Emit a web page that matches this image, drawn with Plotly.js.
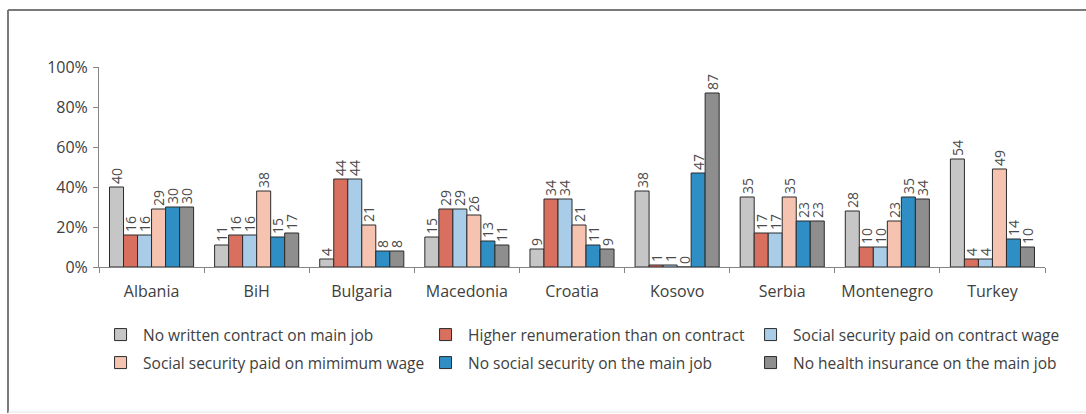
<!DOCTYPE html>
<html><head><meta charset="utf-8">
<script src="https://cdn.plot.ly/plotly-3.0.1.min.js"></script>
<style>html,body{margin:0;padding:0;background:#fff;} #chart{width:1086px;height:414px;}</style>
</head><body><div id="chart"></div>
<script>
const countries = ["Albania","BiH","Bulgaria","Macedonia","Croatia","Kosovo","Serbia","Montenegro","Turkey"];
const seriesNames = [
  "No written contract on main job",
  "Higher renumeration than on contract",
  "Social security paid on contract wage",
  "Social security paid on mimimum wage",
  "No social security on the main job",
  "No health insurance on the main job"
];
const noWrittenContract   = [40,11,4,15,9,38,35,28,54];
const higherRenumeration  = [16,16,44,29,34,1,17,10,4];
const ssOnContractWage    = [16,16,44,29,34,1,17,10,4];
const ssOnMinimumWage     = [29,38,21,26,21,0,35,23,49];
const noSocialSecurity    = [30,15,8,13,11,47,23,35,14];
const noHealthInsurance   = [30,17,8,11,9,87,23,34,10];
const yTickVals = [0,20,40,60,80,100];
const yTickText = ["0%","20%","40%","60%","80%","100%"];

const seriesValues = [noWrittenContract, higherRenumeration, ssOnContractWage, ssOnMinimumWage, noSocialSecurity, noHealthInsurance];
const colors = ["#c6c6c6","#d9705f","#a9cce8","#f7c3b1","#2f8fc5","#8e8e8e"];
const legendIds = ["legend","legend","legend","legend2","legend2","legend2"];

const W = 1086, H = 414;
const M = {l:99, r:41, t:67, b:147};
const pw = W - M.l - M.r, ph = H - M.t - M.b;
const px = x => (x - M.l) / pw;
const py = y => (H - M.b - y) / ph;

const FONT = "Open Sans, Liberation Sans, sans-serif";
const traces = seriesValues.map((vals, i) => ({
  type: "bar",
  name: seriesNames[i],
  x: countries,
  y: vals,
  text: vals.map(String),
  textposition: "outside",
  textangle: -90,
  constraintext: "none",
  cliponaxis: false,
  textfont: {family: FONT, size: 14, color: "#4a4a4a"},
  marker: {color: colors[i], line: {color: "#2b2b2b", width: 1}},
  legend: legendIds[i],
  hoverinfo: "x+y+name"
}));

const legendCommon = {
  orientation: "h",
  xanchor: "left",
  yanchor: "middle",
  itemwidth: 35,
  entrywidth: 275,
  entrywidthmode: "pixels",
  font: {family: FONT, size: 15.5, color: "#404040"},
  bgcolor: "rgba(0,0,0,0)",
  itemclick: false, itemdoubleclick: false
};

const layout = {
  width: W, height: H,
  margin: M,
  paper_bgcolor: "#ffffff",
  plot_bgcolor: "#ffffff",
  barmode: "group",
  bargap: 0.2,
  bargroupgap: 0,
  showlegend: true,
  legend: Object.assign({}, legendCommon, {x: -0.001, y: py(335)}),
  legend2: Object.assign({}, legendCommon, {x: -0.001, y: py(363)}),
  xaxis: {
    type: "category",
    showline: true, linecolor: "#858585", linewidth: 1,
    ticks: "outside", tickson: "boundaries", ticklen: 5, tickcolor: "#858585",
    ticklabelstandoff: 10,
    showgrid: false, zeroline: false,
    tickfont: {family: FONT, size: 16, color: "#404040"},
    fixedrange: true
  },
  yaxis: {
    range: [0, 100],
    tickvals: yTickVals, ticktext: yTickText,
    showline: true, linecolor: "#858585", linewidth: 1,
    ticks: "outside", ticklen: 5, tickcolor: "#858585",
    ticklabelstandoff: 2,
    showgrid: false, zeroline: false,
    tickfont: {family: FONT, size: 16, color: "#404040"},
    fixedrange: true
  },
  shapes: [
    {type:"line", xref:"paper", yref:"paper", x0:px(8), x1:px(1090), y0:py(10), y1:py(10), line:{color:"#7a7a7a", width:2}},
    {type:"line", xref:"paper", yref:"paper", x0:px(8), x1:px(8), y0:py(10), y1:py(413), line:{color:"#7a7a7a", width:2}},
    {type:"line", xref:"paper", yref:"paper", x0:px(8), x1:px(1090), y0:py(412), y1:py(412), line:{color:"#e0e0e0", width:1}}
  ]
};

Plotly.newPlot("chart", traces, layout, {displayModeBar: false, staticPlot: true});
</script>
</body></html>
